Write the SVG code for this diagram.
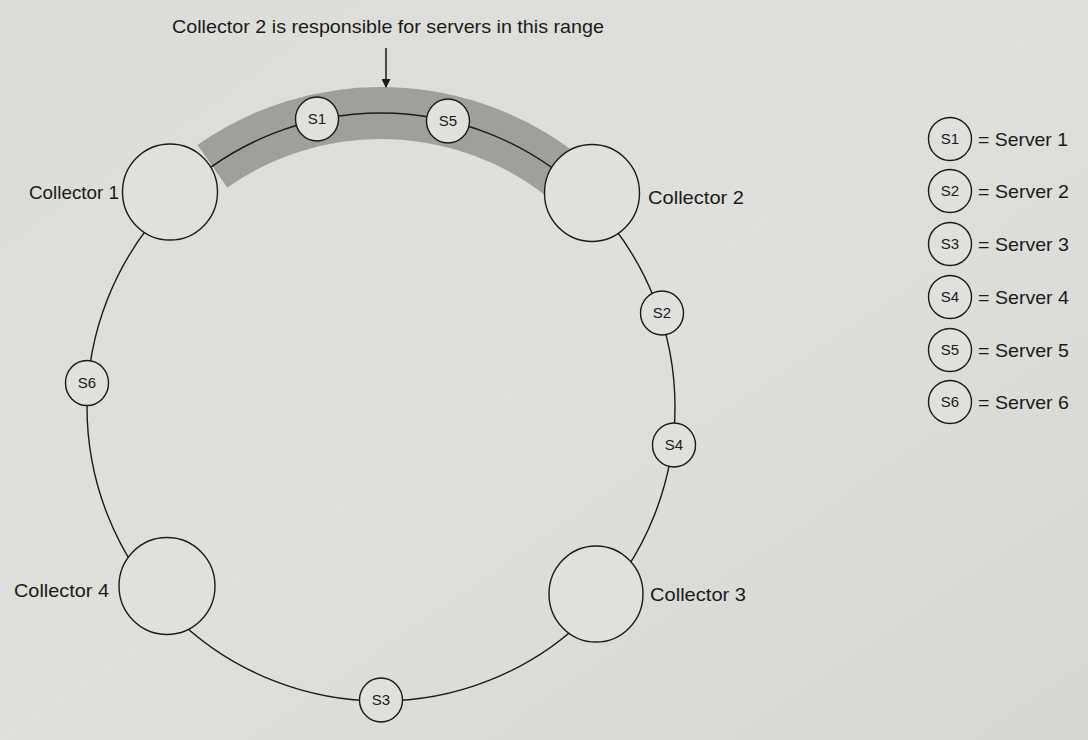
<svg xmlns="http://www.w3.org/2000/svg" width="1088" height="740" viewBox="0 0 1088 740">
<defs>
<linearGradient id="paper" x1="0" y1="0" x2="1" y2="1">
<stop offset="0" stop-color="#dcdcd8"/>
<stop offset="0.5" stop-color="#dfdfdb"/>
<stop offset="1" stop-color="#d6d6d2"/>
</linearGradient>
<marker id="ah" viewBox="0 0 10 10" refX="9" refY="5" markerWidth="12" markerHeight="9" markerUnits="userSpaceOnUse" orient="auto">
<path d="M0,0 L10,5 L0,10 z" fill="#1a1a1a"/>
</marker>
<style>
.lbl{font-family:"Liberation Sans",Arial,sans-serif;fill:#1a1a1a}
.big{font-size:19px}
.leg{font-size:19px}
.sv{font-size:15px;text-anchor:middle}
.node{fill:#e0e0dc;stroke:#1a1a1a;stroke-width:1.4}
.ring{fill:none;stroke:#1a1a1a;stroke-width:1.4}
</style>
</defs>
<rect x="0" y="0" width="1088" height="740" fill="url(#paper)"/>

<g id="range-band">
<path d="M 212.4 166.2 A 294 294 0 0 1 566 178.5" fill="none" stroke="#9f9f9c" stroke-width="52"/>
</g>

<g id="connectors">
<circle class="ring" cx="381" cy="407" r="294"/>
<line x1="386" y1="48" x2="386" y2="87" stroke="#1a1a1a" stroke-width="1.5" marker-end="url(#ah)"/>
</g>

<text class="lbl big" x="388" y="33" text-anchor="middle" textLength="432" lengthAdjust="spacingAndGlyphs">Collector 2 is responsible for servers in this range</text>

<g id="collector1"><ellipse class="node" cx="170" cy="192" rx="47.5" ry="48"/><text class="lbl big" x="119" y="199" text-anchor="end" textLength="90" lengthAdjust="spacingAndGlyphs">Collector 1</text></g>
<g id="collector2"><ellipse class="node" cx="592" cy="193" rx="47.5" ry="48.5"/><text class="lbl big" x="648" y="204" textLength="96" lengthAdjust="spacingAndGlyphs">Collector 2</text></g>
<g id="collector3"><ellipse class="node" cx="596" cy="594" rx="47" ry="48"/><text class="lbl big" x="650" y="601" textLength="96" lengthAdjust="spacingAndGlyphs">Collector 3</text></g>
<g id="collector4"><ellipse class="node" cx="167" cy="586" rx="48" ry="48.5"/><text class="lbl big" x="109" y="597" text-anchor="end" textLength="95" lengthAdjust="spacingAndGlyphs">Collector 4</text></g>

<g id="s1"><ellipse class="node" cx="317" cy="119" rx="21.5" ry="22"/><text class="lbl sv" x="317" y="124">S1</text></g>
<g id="s5"><ellipse class="node" cx="448" cy="121" rx="21.5" ry="22"/><text class="lbl sv" x="448" y="126">S5</text></g>
<g id="s2"><ellipse class="node" cx="662" cy="313" rx="21.5" ry="22"/><text class="lbl sv" x="662" y="318">S2</text></g>
<g id="s4"><ellipse class="node" cx="674" cy="445" rx="21.5" ry="22"/><text class="lbl sv" x="674" y="450">S4</text></g>
<g id="s6"><ellipse class="node" cx="87" cy="383" rx="21.5" ry="22.5"/><text class="lbl sv" x="87" y="388">S6</text></g>
<g id="s3"><ellipse class="node" cx="381" cy="700" rx="21.5" ry="22"/><text class="lbl sv" x="381" y="705">S3</text></g>

<g id="legend">
<g id="leg1"><circle class="node" cx="950" cy="139" r="21.5"/><text class="lbl sv" x="950" y="144">S1</text><text class="lbl leg" x="978" y="146" textLength="90" lengthAdjust="spacingAndGlyphs">= Server 1</text></g>
<g id="leg2"><circle class="node" cx="950" cy="191" r="21.5"/><text class="lbl sv" x="950" y="196">S2</text><text class="lbl leg" x="978" y="198" textLength="91" lengthAdjust="spacingAndGlyphs">= Server 2</text></g>
<g id="leg3"><circle class="node" cx="950" cy="244" r="21.5"/><text class="lbl sv" x="950" y="249">S3</text><text class="lbl leg" x="978" y="251" textLength="91" lengthAdjust="spacingAndGlyphs">= Server 3</text></g>
<g id="leg4"><circle class="node" cx="950" cy="297" r="21.5"/><text class="lbl sv" x="950" y="302">S4</text><text class="lbl leg" x="978" y="304" textLength="91" lengthAdjust="spacingAndGlyphs">= Server 4</text></g>
<g id="leg5"><circle class="node" cx="950" cy="350" r="21.5"/><text class="lbl sv" x="950" y="355">S5</text><text class="lbl leg" x="978" y="357" textLength="91" lengthAdjust="spacingAndGlyphs">= Server 5</text></g>
<g id="leg6"><circle class="node" cx="950" cy="402" r="21.5"/><text class="lbl sv" x="950" y="407">S6</text><text class="lbl leg" x="978" y="409" textLength="91" lengthAdjust="spacingAndGlyphs">= Server 6</text></g>
</g>
</svg>
